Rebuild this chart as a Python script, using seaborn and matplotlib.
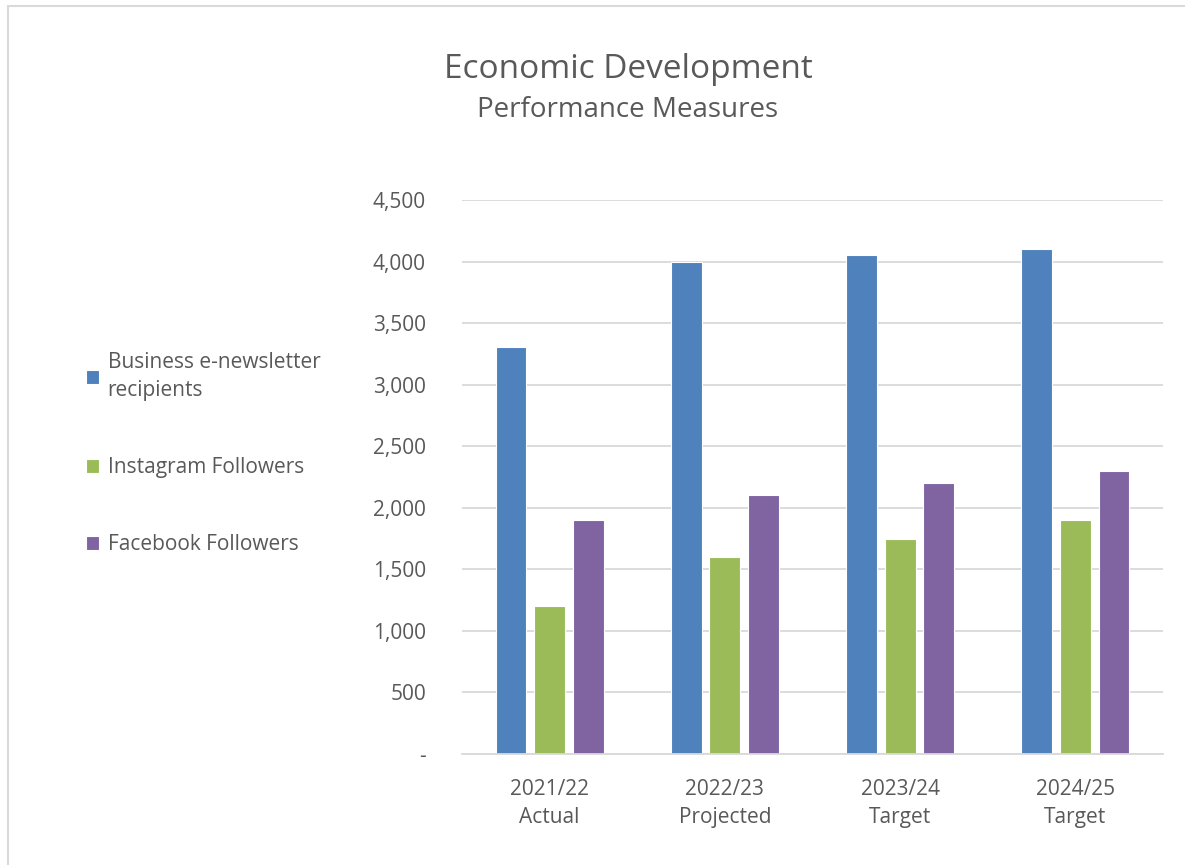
import matplotlib
matplotlib.use("Agg")
import matplotlib.pyplot as plt
from matplotlib.lines import Line2D
from matplotlib.ticker import FuncFormatter
import seaborn as sns
import pandas as pd

categories = ["2021/22\nActual", "2022/23\nProjected", "2023/24\nTarget", "2024/25\nTarget"]
series = ["Business e-newsletter\nrecipients", "Instagram Followers", "Facebook Followers"]
newsletter = [3310, 4000, 4050, 4100]
instagram = [1200, 1600, 1750, 1900]
facebook = [1900, 2100, 2200, 2300]
colors = ["#4F81BD", "#9BBB59", "#8064A2"]
yticks = [0, 500, 1000, 1500, 2000, 2500, 3000, 3500, 4000, 4500]

rows = []
for s, vals in zip(series, [newsletter, instagram, facebook]):
    for c, v in zip(categories, vals):
        rows.append({"Category": c, "Series": s, "Value": v})
df = pd.DataFrame(rows)

sns.set_theme(style="white")
plt.rcParams["font.family"] = ["Open Sans", "DejaVu Sans"]
textc = "#595959"

fig = plt.figure(figsize=(11.85, 8.65), dpi=100)
ax = fig.add_axes([462/1185, 1 - 754/865, (1163-462)/1185, (754-200)/865])

sns.barplot(data=df, x="Category", y="Value", hue="Series", order=categories,
            hue_order=series, palette=colors, width=0.66, gap=0.2,
            saturation=1, edgecolor="white", linewidth=0.8, ax=ax, legend=True)

ax.set_ylim(0, 4500)
ax.set_xlim(-0.5, 3.5)
ax.set_yticks(yticks)
ax.yaxis.set_major_formatter(FuncFormatter(lambda v, p: "-" if v == 0 else f"{int(v):,}"))
ax.grid(axis="y", color="#d9d9d9", linewidth=1.3)
ax.set_axisbelow(True)
for sp in ["top", "right", "left"]:
    ax.spines[sp].set_visible(False)
ax.spines["bottom"].set_color("#d9d9d9")
ax.spines["bottom"].set_linewidth(1.3)
ax.tick_params(axis="both", length=0, labelsize=15, colors=textc)
ax.tick_params(axis="y", pad=26)
ax.tick_params(axis="x", pad=18)
ax.set_xlabel("")
ax.set_ylabel("")
for lbl in ax.get_xticklabels():
    lbl.set_linespacing(1.45)

handles, labels = ax.get_legend_handles_labels()
ax.get_legend().remove()
leg = fig.legend(handles, labels, loc="upper left", bbox_to_anchor=(67/1185, 1 - 333/865),
                 frameon=False, fontsize=15, labelcolor=textc, handlelength=0.65,
                 handleheight=0.65, handletextpad=0.4, labelspacing=2.7)
for t in leg.get_texts():
    t.set_linespacing(1.45)

fig.text(628/1185, 1 - 69/865, "Economic Development", ha="center", va="center",
         fontsize=24, color=textc)
fig.text(628/1185, 1 - 110/865, "Performance Measures", ha="center", va="center",
         fontsize=20, color=textc)

fig.add_artist(Line2D([8/1185, 8/1185], [0, 1 - 6/865], transform=fig.transFigure,
                      color="#d9d9d9", linewidth=1.5))
fig.add_artist(Line2D([8/1185, 1], [1 - 6/865, 1 - 6/865], transform=fig.transFigure,
                      color="#d9d9d9", linewidth=1.5))

fig.savefig("out.png", dpi=100)
